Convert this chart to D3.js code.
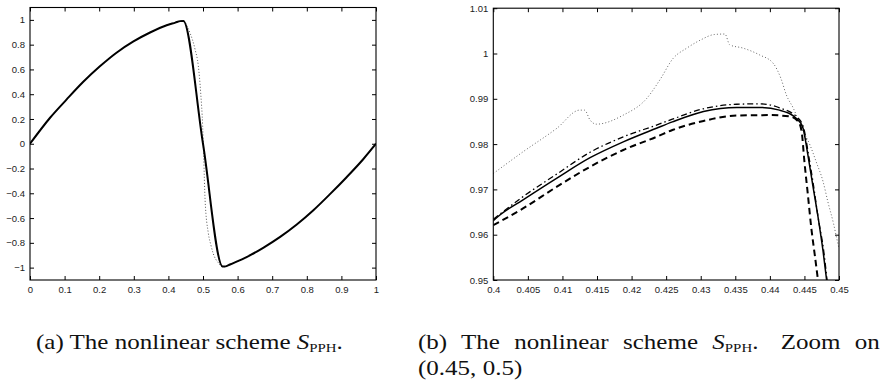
<!DOCTYPE html>
<html>
<head>
<meta charset="utf-8">
<script src="https://cdn.jsdelivr.net/npm/d3@7"></script>
<style>
  body { margin: 0; background: #fff; }
  .tick text { font-family: "Liberation Sans", Arial, sans-serif; font-size: 9.5px; fill: #222; }
  .cap { font-family: "Liberation Serif", "Times New Roman", serif; font-size: 21px; fill: #111; }
</style>
</head>
<body>
<svg id="fig" width="884" height="383"></svg>
<script>
// ---- panel (a): full signal ----
var a_x_ticks = [0, 0.1, 0.2, 0.3, 0.4, 0.5, 0.6, 0.7, 0.8, 0.9, 1];
var a_y_ticks = [-1, -0.8, -0.6, -0.4, -0.2, 0, 0.2, 0.4, 0.6, 0.8, 1];

var a_solid_x = [0, 0.058, 0.106, 0.154, 0.202, 0.25, 0.299, 0.347, 0.395, 0.42, 0.434, 0.443,
                 0.5, 0.557, 0.566, 0.578, 0.626, 0.674, 0.723, 0.771, 0.819, 0.867, 0.915, 0.963, 1];
var a_solid_y = [0, 0.21, 0.358, 0.5, 0.625, 0.735, 0.826, 0.898, 0.957, 0.978, 0.99, 0.992,
                 0, -0.992, -0.99, -0.975, -0.915, -0.84, -0.752, -0.652, -0.537, -0.407, -0.27, -0.125, 0];

var a_dot_x = [0, 0.058, 0.106, 0.154, 0.202, 0.25, 0.299, 0.347, 0.395, 0.42, 0.434, 0.443,
               0.452, 0.462, 0.477, 0.4865, 0.4933, 0.499, 0.502, 0.506, 0.5154, 0.523, 0.53, 0.544, 0.557,
               0.566, 0.578, 0.626, 0.674, 0.723, 0.771, 0.819, 0.867, 0.915, 0.963, 1];
var a_dot_y = [0, 0.21, 0.358, 0.5, 0.625, 0.735, 0.826, 0.898, 0.957, 0.978, 0.99, 0.995,
               0.96, 0.898, 0.763, 0.628, 0.412, 0.142, -0.1, -0.452, -0.722, -0.82, -0.89, -0.96, -0.995,
               -0.99, -0.975, -0.915, -0.84, -0.752, -0.652, -0.537, -0.407, -0.27, -0.125, 0];

// ---- panel (b): zoom ----
var b_x_ticks = [0.4, 0.405, 0.41, 0.415, 0.42, 0.425, 0.43, 0.435, 0.44, 0.445, 0.45];
var b_y_ticks = [0.95, 0.96, 0.97, 0.98, 0.99, 1, 1.01];

var b_solid_x = [0.4, 0.401, 0.4043, 0.4092, 0.414, 0.4188, 0.4236, 0.4259, 0.4304, 0.4352, 0.4385,
                 0.4414, 0.4441, 0.4448, 0.4455, 0.4462, 0.447, 0.4477, 0.44825];
var b_solid_y = [0.9631, 0.9644, 0.9677, 0.9725, 0.977, 0.9805, 0.9835, 0.9849, 0.9872, 0.9881, 0.9881,
                 0.9875, 0.9853, 0.9835, 0.9776, 0.971, 0.9636, 0.9563, 0.9495];

var b_dash_x = [0.4, 0.4043, 0.4092, 0.414, 0.4188, 0.4236, 0.4259, 0.4304, 0.4352, 0.44, 0.4429,
                0.4441, 0.4446, 0.445, 0.4455, 0.446, 0.4465, 0.447];
var b_dash_y = [0.9621, 0.9658, 0.9706, 0.975, 0.9787, 0.9816, 0.9831, 0.9851, 0.9863, 0.9864, 0.9861,
                0.985, 0.9827, 0.9761, 0.9688, 0.9614, 0.9555, 0.9495];

var b_dashdot_x = [0.4, 0.4043, 0.4092, 0.414, 0.4188, 0.4236, 0.4259, 0.4304, 0.4352, 0.4385, 0.4414,
                   0.4441, 0.4449, 0.4456, 0.4463, 0.447, 0.4478, 0.4483];
var b_dashdot_y = [0.9634, 0.9684, 0.9734, 0.9782, 0.9816, 0.9842, 0.9855, 0.9878, 0.9888, 0.9889, 0.988,
                   0.9857, 0.9835, 0.9776, 0.971, 0.9636, 0.9563, 0.9495];

var b_dot_x = [0.4, 0.4043, 0.4092, 0.4125, 0.4132, 0.414, 0.4149, 0.4188, 0.4222, 0.4241, 0.426, 0.428,
               0.43, 0.432, 0.4335, 0.4342, 0.4361, 0.4385, 0.4405, 0.4416, 0.4424, 0.4434, 0.4446,
               0.4458, 0.4467, 0.4477, 0.4484, 0.4492, 0.4497, 0.45];
var b_dot_y = [0.9735, 0.9783, 0.9835, 0.9875, 0.9875, 0.9853, 0.9844, 0.9864, 0.9901, 0.9942, 0.9989, 1.0012,
               1.003, 1.0042, 1.0043, 1.0019, 1.0012, 0.9997, 0.9978, 0.9945, 0.9908, 0.9879, 0.9835,
               0.9798, 0.9761, 0.9717, 0.9672, 0.9625, 0.959, 0.957];

var svg = d3.select("#fig");

function fmt(d) {
  return d3.format("~g")(d).replace("-", "\u2212");
}

function zip(xs, ys) {
  return xs.map(function(x, i) { return [x, ys[i]]; });
}

function drawPanel(id, box, x_dom, y_dom, x_ticks, y_ticks, series) {
  var width = box.right - box.left,
      height = box.bottom - box.top;

  var x_scaler = d3.scaleLinear().domain(x_dom).range([0, width]);
  var y_scaler = d3.scaleLinear().domain(y_dom).range([height, 0]);

  var g = svg.append("g")
    .attr("transform", "translate(" + box.left + "," + box.top + ")");

  g.append("clipPath").attr("id", "clip_" + id)
    .append("rect").attr("width", width).attr("height", height);

  var line = d3.line()
    .curve(d3.curveMonotoneX)
    .x(function(d) { return x_scaler(d[0]); })
    .y(function(d) { return y_scaler(d[1]); });

  var lines = g.append("g").attr("clip-path", "url(#clip_" + id + ")");
  series.forEach(function(s) {
    lines.append("path")
      .datum(zip(s.x, s.y))
      .attr("d", line)
      .attr("fill", "none")
      .attr("stroke", s.color)
      .attr("stroke-width", s.width)
      .attr("stroke-dasharray", s.dash || null)
      .attr("stroke-linejoin", "round");
  });

  g.append("g")
    .attr("transform", "translate(0," + height + ")")
    .call(d3.axisBottom(x_scaler).tickValues(x_ticks).tickFormat(fmt)
      .tickSizeInner(-4).tickSizeOuter(0).tickPadding(6));
  g.append("g")
    .call(d3.axisTop(x_scaler).tickValues(x_ticks).tickFormat("")
      .tickSizeInner(-4).tickSizeOuter(0));
  g.append("g")
    .call(d3.axisLeft(y_scaler).tickValues(y_ticks).tickFormat(fmt)
      .tickSizeInner(-4).tickSizeOuter(0).tickPadding(5));
  g.append("g")
    .attr("transform", "translate(" + width + ",0)")
    .call(d3.axisRight(y_scaler).tickValues(y_ticks).tickFormat("")
      .tickSizeInner(-4).tickSizeOuter(0));

  g.selectAll(".domain").remove();
  g.selectAll(".tick line").attr("stroke", "#000");

  g.append("rect")
    .attr("width", width).attr("height", height)
    .attr("fill", "none").attr("stroke", "#000").attr("stroke-width", 1.1);
}

drawPanel("a", {left: 30, right: 376, top: 7.5, bottom: 280}, [0, 1], [-1.1, 1.1],
  a_x_ticks, a_y_ticks, [
    {x: a_dot_x, y: a_dot_y, color: "#555", width: 1, dash: "1,2"},
    {x: a_solid_x, y: a_solid_y, color: "#000", width: 2}
  ]);

drawPanel("b", {left: 493.3, right: 839, top: 8.2, bottom: 280}, [0.4, 0.45], [0.95, 1.01],
  b_x_ticks, b_y_ticks, [
    {x: b_dot_x, y: b_dot_y, color: "#666", width: 1, dash: "1,2.2"},
    {x: b_dash_x, y: b_dash_y, color: "#000", width: 2, dash: "6.5,4"},
    {x: b_dashdot_x, y: b_dashdot_y, color: "#000", width: 1.3, dash: "6,3,1.5,3"},
    {x: b_solid_x, y: b_solid_y, color: "#000", width: 1.5}
  ]);

// ---- captions ----
function schemeText(t, lead) {
  t.append("tspan").text(lead);
  t.append("tspan").style("font-style", "italic").text("S");
  t.append("tspan").attr("dy", 3).style("font-size", "12.5px").text("PPH");
  t.append("tspan").attr("dy", -3).text(".");
}

// (a) single line, stretched horizontally to the reference width
var cap_a = svg.append("text").attr("class", "cap");
schemeText(cap_a, "(a) The nonlinear scheme ");
var sx = 307 / cap_a.node().getComputedTextLength();
cap_a.attr("transform", "translate(36,349) scale(" + sx + ",1)");

// (b) first line justified between 418 and 880, with a wider sentence gap
var cap_b = svg.append("text").attr("class", "cap");
schemeText(cap_b, "(b) The nonlinear scheme ");
var zoom_on = cap_b.append("tspan").text(" Zoom on");
var wb = cap_b.node().getComputedTextLength();
var ws = (462 / sx - wb) / 7;
cap_b.attr("word-spacing", ws)
  .attr("transform", "translate(418,349) scale(" + sx + ",1)");
zoom_on.attr("dx", ws);

svg.append("text").attr("class", "cap")
  .attr("transform", "translate(418,375) scale(" + sx + ",1)")
  .text("(0.45, 0.5)");
</script>
</body>
</html>
